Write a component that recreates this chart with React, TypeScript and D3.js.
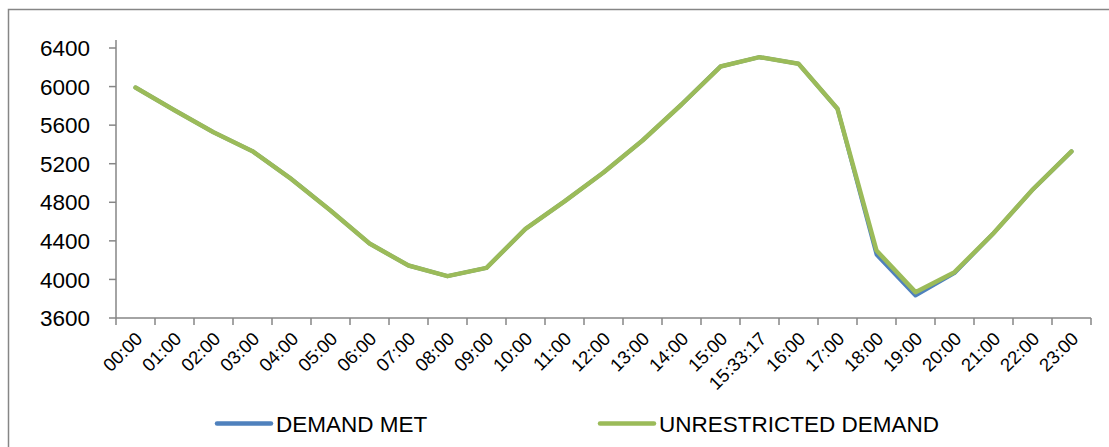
import { useEffect, useRef } from "react";
import * as d3 from "d3";

const categories = [
  "00:00", "01:00", "02:00", "03:00", "04:00", "05:00", "06:00", "07:00",
  "08:00", "09:00", "10:00", "11:00", "12:00", "13:00", "14:00", "15:00",
  "15:33:17", "16:00", "17:00", "18:00", "19:00", "20:00", "21:00", "22:00", "23:00",
];

const unrestrictedDemand = [
  5990, 5755, 5527, 5330, 5040, 4715, 4372, 4144, 4034, 4120, 4525, 4810,
  5109, 5441, 5814, 6208, 6305, 6236, 5769, 4300, 3868, 4075, 4479, 4930, 5327,
];

const demandMet = [
  5990, 5755, 5527, 5330, 5040, 4715, 4372, 4144, 4034, 4120, 4525, 4810,
  5109, 5441, 5814, 6208, 6305, 6236, 5769, 4258, 3833, 4066, 4479, 4930, 5327,
];

const yTicks = [3600, 4000, 4400, 4800, 5200, 5600, 6000, 6400];

const SERIES = [
  { label: "DEMAND MET", values: demandMet, color: "#4F81BD", width: 4 },
  { label: "UNRESTRICTED DEMAND", values: unrestrictedDemand, color: "#9BBB59", width: 4.5 },
];

const FONT = "'Liberation Sans', Arial, sans-serif";
const AXIS = "#868686";

export default function App() {
  const svgRef = useRef<SVGSVGElement>(null);

  useEffect(() => {
    if (!svgRef.current) return;
    const width = 1109;
    const height = 447;
    const plot = { left: 116, right: 1091, top: 48, bottom: 318 };

    const svg = d3.select(svgRef.current);
    svg.selectAll("*").remove();
    svg.attr("width", width).attr("height", height);

    // chart border (runs off the viewport on right/bottom)
    svg.append("rect")
      .attr("x", 8.5)
      .attr("y", 9.5)
      .attr("width", width + 20)
      .attr("height", height + 20)
      .attr("fill", "#fff")
      .attr("stroke", AXIS)
      .attr("stroke-width", 1.5);

    const x = d3.scaleBand<string>()
      .domain(categories)
      .range([plot.left, plot.right])
      .padding(0);

    const y = d3.scaleLinear()
      .domain([3600, 6400])
      .range([plot.bottom, plot.top]);

    const g = svg.append("g");

    // y axis
    g.append("line")
      .attr("x1", plot.left).attr("x2", plot.left)
      .attr("y1", 40).attr("y2", plot.bottom)
      .attr("stroke", AXIS).attr("stroke-width", 1.5);

    yTicks.forEach((t) => {
      g.append("line")
        .attr("x1", plot.left - 7).attr("x2", plot.left)
        .attr("y1", y(t)).attr("y2", y(t))
        .attr("stroke", AXIS).attr("stroke-width", 1.5);
      g.append("text")
        .attr("x", 90)
        .attr("y", y(t))
        .attr("dy", "0.36em")
        .attr("text-anchor", "end")
        .attr("font-family", FONT)
        .attr("font-size", 22.5)
        .attr("fill", "#000")
        .text(t);
    });

    // x axis
    g.append("line")
      .attr("x1", plot.left).attr("x2", plot.right)
      .attr("y1", plot.bottom).attr("y2", plot.bottom)
      .attr("stroke", AXIS).attr("stroke-width", 1.5);

    const bw = x.bandwidth();
    [...categories.map((c) => x(c)!), plot.right].forEach((px) => {
      g.append("line")
        .attr("x1", px).attr("x2", px)
        .attr("y1", plot.bottom).attr("y2", plot.bottom + 7)
        .attr("stroke", AXIS).attr("stroke-width", 1.5);
    });

    categories.forEach((c) => {
      const cx = x(c)! + bw / 2 + 8;
      const cy = plot.bottom + 22;
      g.append("text")
        .attr("transform", `translate(${cx},${cy}) rotate(-45)`)
        .attr("text-anchor", "end")
        .attr("font-family", FONT)
        .attr("font-size", 18.5)
        .attr("fill", "#000")
        .text(c);
    });

    // lines
    const line = d3.line<number>()
      .x((_, i) => x(categories[i])! + bw / 2)
      .y((d) => y(d));

    SERIES.forEach((s) => {
      g.append("path")
        .datum(s.values)
        .attr("d", line)
        .attr("fill", "none")
        .attr("stroke", s.color)
        .attr("stroke-width", s.width)
        .attr("stroke-linejoin", "round")
        .attr("stroke-linecap", "round");
    });

    // legend
    const legendX = [217, 600];
    SERIES.forEach((s, i) => {
      const lx = legendX[i];
      g.append("line")
        .attr("x1", lx).attr("x2", lx + 54)
        .attr("y1", 423.5).attr("y2", 423.5)
        .attr("stroke", s.color)
        .attr("stroke-width", 4.5)
        .attr("stroke-linecap", "round");
      g.append("text")
        .attr("x", lx + 59)
        .attr("y", 431.5)
        .attr("font-family", FONT)
        .attr("font-size", 22.5)
        .attr("fill", "#000")
        .text(s.label);
    });
  }, []);

  return (
    <svg
      ref={svgRef}
      style={{ position: "absolute", left: 0, top: 0, display: "block" }}
    />
  );
}
